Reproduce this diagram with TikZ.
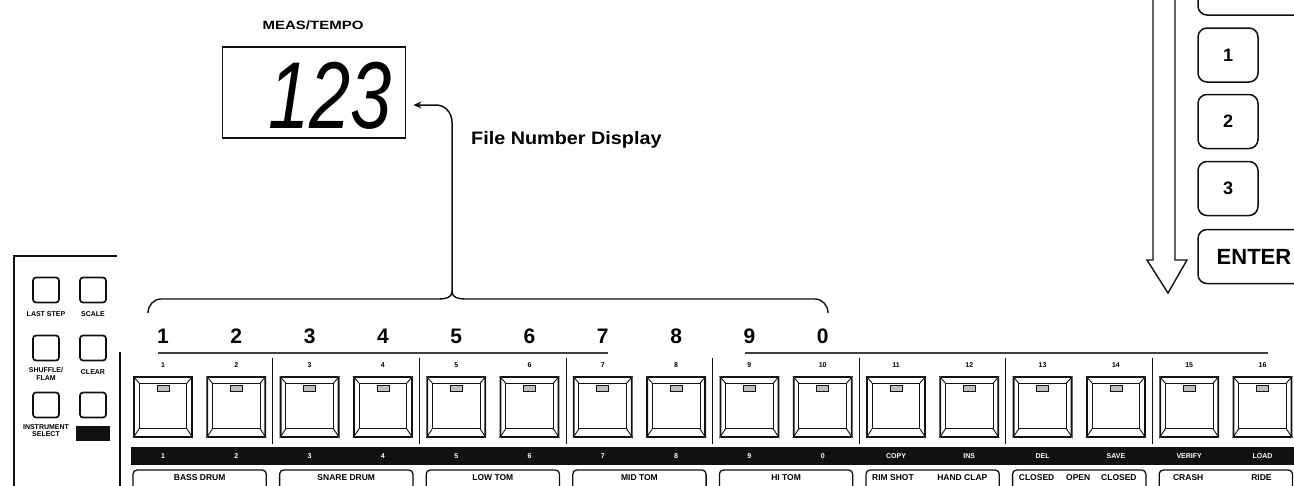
\documentclass[tikz,border=0pt]{standalone}
\usepackage{fontspec}
\setmainfont{Liberation Sans}
\usetikzlibrary{positioning,calc,arrows.meta}
\definecolor{ink}{HTML}{111111}
\tikzset{
  % Trinknap: ydre ramme, skraa hjoerner, indre felt og lampe
  stepkey/.style={draw=ink, line width=1.8pt, fill=white, rounded corners=1pt,
    minimum width=58pt, minimum height=60pt, inner sep=0pt},
  bevel/.style={draw=ink, line width=.9pt},
  led/.style={draw=ink, line width=.8pt, fill=black!25},
  % Smaa funktionsknapper i venstre felt
  smallkey/.style={draw=ink, line width=1.7pt, rounded corners=3pt,
    minimum width=26pt, minimum height=25pt, inner sep=0pt},
  % Afrundede taster til hoejre (1, 2, 3, ENTER)
  roundkey/.style={draw=ink, line width=1.5pt, rounded corners=9pt,
    minimum width=60pt, minimum height=54pt, inner sep=0pt,
    font=\fontsize{18}{18}\selectfont\bfseries},
  lbl/.style={font=\fontsize{7}{7.5}\selectfont\bfseries, inner sep=0pt, align=center},
  striplbl/.style={lbl, text=white},
  grplbl/.style={font=\fontsize{8.5}{9}\selectfont\bfseries, inner sep=0pt},
  bignum/.style={font=\fontsize{21}{21}\selectfont\bfseries, inner sep=0pt},
  grpbox/.style={draw=ink, line width=1.3pt, rounded corners=4pt},
  divider/.style={draw=ink, line width=1pt},
  overline/.style={draw=black!75, line width=2pt},
  panel/.style={draw=ink, line width=1.4pt},
  pointer/.style={draw=ink, line width=1.5pt, -{Stealth[length=8pt,width=7pt]}},
}
% Trinknap: navn, x, nummer over, tekst i sort baand
\newcommand{\stepkey}[4]{%
  \node[stepkey] (#1) at (#2,-407) {};
  \draw[bevel] ([shift={(6,-7)}]#1.north west) rectangle ([shift={(-6,9)}]#1.south east);
  \draw[bevel] (#1.north west) -- ++(6,-7) (#1.north east) -- ++(-6,-7)
    (#1.south west) -- ++(6,9) (#1.south east) -- ++(-6,9);
  \draw[led] ([shift={(-6,-9)}]#1.north) rectangle ([shift={(6,-15)}]#1.north);
  \node[lbl] at ([yshift=11]#1.north) {#3};
  \node[striplbl] at ([yshift=-49]#1.center) {#4};}
% Skillestreg mellem to knapper
\newcommand{\keysep}[2]{%
  \draw[divider] ($(#1.east)!.5!(#2.west)+(0,49)$) -- ++(0,-86);}
% Instrumentgruppe under to knapper
\newcommand{\grp}[3]{%
  \draw[grpbox] ($(#1)+(-30,-63)$) rectangle ($(#2)+(30,-95)$);
  \node[grplbl] at ($(#1)!.5!(#2)+(0,-71)$) {#3};}

\begin{document}
\begin{tikzpicture}[x=1pt,y=1pt]
\path[use as bounding box] (0,0) rectangle (1294,-485);
\clip (0,0) rectangle (1294,-485);

% ----- display -----
\node[font=\fontsize{12}{12}\selectfont\bfseries, inner sep=0pt, xscale=1.25, transform shape] (meas) at (313,-25) {MEAS/TEMPO};
\node[draw=ink, line width=1.7pt, minimum width=183pt, minimum height=91pt] (disp) at (314,-92.5) {};
\node[font=\fontsize{95}{95}\selectfont\itshape, inner sep=0pt, xscale=.78, transform shape]
  (digits) at ($(disp)+(16,-3.5)$) {123};
\node[font=\fontsize{18}{18}\selectfont\bfseries, inner sep=0pt, anchor=west, xscale=1.1, transform shape] (fnd) at (471,-140) {File Number Display};

% ----- venstre felt -----
\draw[panel] (117,-256) -- (14,-256) -- (14,-490);
\draw[panel] (120,-352) -- (120,-490);
\node[smallkey] (laststep) at (46,-290) {};
\node[smallkey] (scale) at (93,-290) {};
\node[smallkey] (shuffle) at (46,-348) {};
\node[smallkey] (clear) at (93,-348) {};
\node[smallkey] (instsel) at (46,-405) {};
\node[smallkey] (blank) at (93,-405) {};
\node[lbl, below=8pt of laststep] {LAST STEP};
\node[lbl, below=8pt of scale] {SCALE};
\node[lbl, below=6pt of shuffle] {SHUFFLE/\\FLAM};
\node[lbl, below=8pt of clear] {CLEAR};
\node[lbl, below=6pt of instsel] {INSTRUMENT\\SELECT};
\node[fill=ink, minimum width=34pt, minimum height=15pt, inner sep=0pt, below=7pt of blank] (blackcap) {};

% ----- sort baand -----
\fill[ink] (131,-447) rectangle (1300,-465);

% ----- trinknapper -----
\stepkey{k1}{163}{1}{1}
\stepkey{k2}{236.3}{2}{2}
\stepkey{k3}{309.6}{3}{3}
\stepkey{k4}{382.9}{4}{4}
\stepkey{k5}{456.2}{5}{5}
\stepkey{k6}{529.5}{6}{6}
\stepkey{k7}{602.8}{7}{7}
\stepkey{k8}{676.1}{8}{8}
\stepkey{k9}{749.4}{9}{9}
\stepkey{k10}{822.7}{10}{0}
\stepkey{k11}{896}{11}{COPY}
\stepkey{k12}{969.3}{12}{INS}
\stepkey{k13}{1042.6}{13}{DEL}
\stepkey{k14}{1115.9}{14}{SAVE}
\stepkey{k15}{1189.2}{15}{VERIFY}
\stepkey{k16}{1262.5}{16}{LOAD}

\keysep{k2}{k3}
\keysep{k4}{k5}
\keysep{k6}{k7}
\keysep{k8}{k9}
\keysep{k10}{k11}
\keysep{k12}{k13}
\keysep{k14}{k15}

\draw[overline] (158,-353) -- (608,-353);
\draw[overline] (745,-353) -- (1268,-353);

% ----- talfelt 1-0 -----
\node[bignum, above=32.5pt of k1] {1};
\node[bignum, above=32.5pt of k2] {2};
\node[bignum, above=32.5pt of k3] {3};
\node[bignum, above=32.5pt of k4] {4};
\node[bignum, above=32.5pt of k5] {5};
\node[bignum, above=32.5pt of k6] {6};
\node[bignum, above=32.5pt of k7] {7};
\node[bignum, above=32.5pt of k8] {8};
\node[bignum, above=32.5pt of k9] {9};
\node[bignum, above=32.5pt of k10] {0};

% ----- instrumentgrupper -----
\grp{k1}{k2}{BASS DRUM}
\grp{k3}{k4}{SNARE DRUM}
\grp{k5}{k6}{LOW TOM}
\grp{k7}{k8}{MID TOM}
\grp{k9}{k10}{HI TOM}
\draw[grpbox] ($(k11)+(-30,-63)$) rectangle ($(k12)+(30,-95)$);
\node[grplbl] at ($(k11)+(-3,-71)$) {RIM SHOT};
\node[grplbl] at ($(k12)+(-7,-71)$) {HAND CLAP};
\draw[grpbox] ($(k13)+(-30,-63)$) rectangle ($(k14)+(30,-95)$);
\node[grplbl] at ($(k13)+(-6,-71)$) {CLOSED};
\node[grplbl] at ($(k13)!.5!(k14)+(-1,-71)$) {OPEN};
\node[grplbl] at ($(k14)+(3,-71)$) {CLOSED};
\draw[grpbox] ($(k15)+(-30,-63)$) rectangle ($(k16)+(30,-95)$);
\node[grplbl] at ($(k15)+(-1,-71)$) {CRASH};
\node[grplbl] at ($(k16)+(-1,-71)$) {RIDE};

% ----- klamme og pil til display -----
\coordinate (cusp) at (452,-292);
\coordinate (tip) at ([shift={(7,-12.5)}]disp.east);
\draw[panel] (148,-313) to[out=90,in=180] (161,-299) -- (439,-299)
  to[out=0,in=-90] (cusp) to[out=-90,in=180] (465,-299) -- (815,-299)
  to[out=0,in=90] (828,-313);
\draw[pointer] (cusp) -- (452,-122) to[out=90,in=0] (436,-105) -- (tip);

% ----- hoejre: taster og hul pil -----
\node[roundkey, minimum width=112pt, minimum height=60pt] (topkey) at (1254,15) {};
\node[roundkey] (key1) at (1228,-55) {1};
\node[roundkey] (key2) at (1228,-121.5) {2};
\node[roundkey] (key3) at (1228,-188.5) {3};
\node[roundkey, minimum width=112pt, font=\fontsize{22}{22}\selectfont\bfseries] (enter) at (1254,-256.5) {ENTER\hspace{8pt}};
\draw[panel, line join=miter] (1153,5) -- (1153,-260) -- (1147,-260) -- (1168,-293)
  -- (1187,-260) -- (1175,-260) -- (1175,5);

\end{tikzpicture}
\end{document}
